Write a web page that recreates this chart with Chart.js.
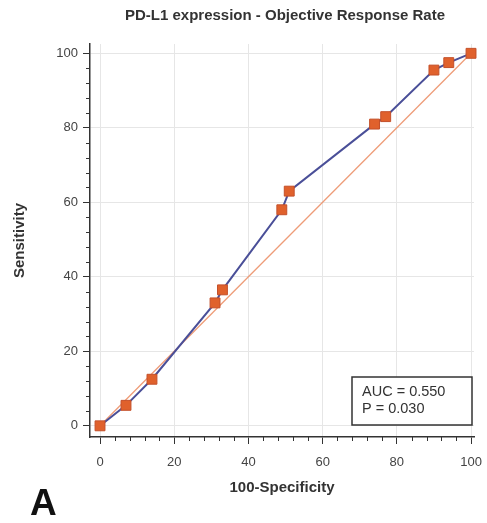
<!DOCTYPE html>
<html>
<head>
<meta charset="utf-8">
<script src="https://cdn.jsdelivr.net/npm/chart.js@4/dist/chart.umd.min.js"></script>
<style>
  html, body { margin: 0; padding: 0; background: #fff; }
  #wrap { width: 487px; height: 523px; }
</style>
</head>
<body>
<div id="wrap"><canvas id="rocChart" width="487" height="523"></canvas></div>
<script>
// ROC curve points (100-Specificity, Sensitivity)
const specValues = [0, 7, 14, 31, 33, 49, 51, 74, 77, 90, 94, 100];
const sensValues = [0, 5.5, 12.5, 33, 36.5, 58, 63, 81, 83, 95.5, 97.5, 100];
// reference (chance) line
const diagX = [0, 100];
const diagY = [0, 100];
const majorTicks = [0, 20, 40, 60, 80, 100];
const statLines = ["AUC = 0.550", "P = 0.030"];
const chartTitle = "PD-L1 expression - Objective Response Rate";
const panelLabel = "A";

const FONT = "'Liberation Sans', Arial, sans-serif";

/**
 * Draw short minor ticks, the title, the stats box and the panel letter
 */
const extrasPlugin = {
  id: "extras",
  afterDraw(chart) {
    const ctx = chart.ctx;
    const area = chart.chartArea;
    const xs = chart.scales.x;
    const ys = chart.scales.y;

    ctx.save();
    // minor ticks every 4 units
    ctx.strokeStyle = "#333";
    ctx.lineWidth = 1;
    for (let v = 0; v <= 100; v += 4) {
      if (v % 20 === 0) continue;
      const px = Math.round(xs.getPixelForValue(v)) + 0.5;
      ctx.beginPath();
      ctx.moveTo(px, area.bottom);
      ctx.lineTo(px, area.bottom + 4);
      ctx.stroke();
      const py = Math.round(ys.getPixelForValue(v)) + 0.5;
      ctx.beginPath();
      ctx.moveTo(area.left, py);
      ctx.lineTo(area.left - 4, py);
      ctx.stroke();
    }

    // title centred over the plot area
    ctx.fillStyle = "#333";
    ctx.font = "bold 15px " + FONT;
    ctx.textAlign = "center";
    ctx.textBaseline = "middle";
    ctx.fillText(chartTitle, (area.left + area.right) / 2 + 3, 16);

    // stats box
    const bx = 352, by = 377, bw = 120, bh = 48;
    ctx.fillStyle = "#fff";
    ctx.fillRect(bx, by, bw, bh);
    ctx.strokeStyle = "#333";
    ctx.lineWidth = 1.5;
    ctx.strokeRect(bx, by, bw, bh);
    ctx.fillStyle = "#333";
    ctx.font = "14.5px " + FONT;
    ctx.textAlign = "left";
    statLines.forEach((t, i) => ctx.fillText(t, bx + 10, by + 15 + i * 17));

    // panel letter
    ctx.font = "bold 37px " + FONT;
    ctx.fillStyle = "#111";
    ctx.textBaseline = "alphabetic";
    ctx.fillText(panelLabel, 30, 515);
    ctx.restore();
  },
};

function majorOnly(scale) {
  scale.ticks = majorTicks.map((v) => ({ value: v }));
}

new Chart(document.getElementById("rocChart").getContext("2d"), {
  type: "scatter",
  data: {
    datasets: [
      {
        label: "ROC",
        data: specValues.map((x, i) => ({ x: x, y: sensValues[i] })),
        showLine: true,
        clip: false,
        borderColor: "#4a4f98",
        borderWidth: 2,
        pointStyle: "rect",
        pointRadius: 7,
        pointBackgroundColor: "#e0612c",
        pointBorderColor: "#c4502a",
        pointBorderWidth: 1,
        order: 1,
      },
      {
        label: "Diagonal",
        data: diagX.map((x, i) => ({ x: x, y: diagY[i] })),
        showLine: true,
        borderColor: "#ee9c78",
        borderWidth: 1.3,
        pointRadius: 0,
        order: 2,
      },
    ],
  },
  options: {
    responsive: false,
    animation: false,
    layout: { padding: { top: 44, right: 13, bottom: 22, left: 0 } },
    plugins: {
      legend: { display: false },
      tooltip: { enabled: false },
      title: { display: false },
    },
    scales: {
      x: {
        type: "linear",
        min: -2.7,
        max: 100.8,
        afterBuildTicks: majorOnly,
        afterFit(scale) {
          scale.height = 64;
          scale.paddingLeft = 0;
          scale.paddingRight = 0;
        },
        grid: { color: "#e6e6e6", lineWidth: 1, tickColor: "#333", tickLength: 7 },
        border: { color: "#333", width: 1.5 },
        ticks: { color: "#444", font: { family: FONT, size: 13 }, padding: 11 },
        title: {
          display: true,
          text: "100-Specificity",
          color: "#333",
          font: { family: FONT, size: 15, weight: "bold" },
          padding: { top: 0 },
        },
      },
      y: {
        type: "linear",
        min: -3,
        max: 102.5,
        afterBuildTicks: majorOnly,
        afterFit(scale) {
          scale.width = 90;
        },
        grid: { color: "#e6e6e6", lineWidth: 1, tickColor: "#333", tickLength: 7 },
        border: { color: "#333", width: 1.5 },
        ticks: { color: "#444", font: { family: FONT, size: 13 }, padding: 5 },
        title: {
          display: true,
          text: "Sensitivity",
          color: "#333",
          font: { family: FONT, size: 15, weight: "bold" },
          padding: { top: 11, bottom: 0 },
        },
      },
    },
  },
  plugins: [extrasPlugin],
});
</script>
</body>
</html>
